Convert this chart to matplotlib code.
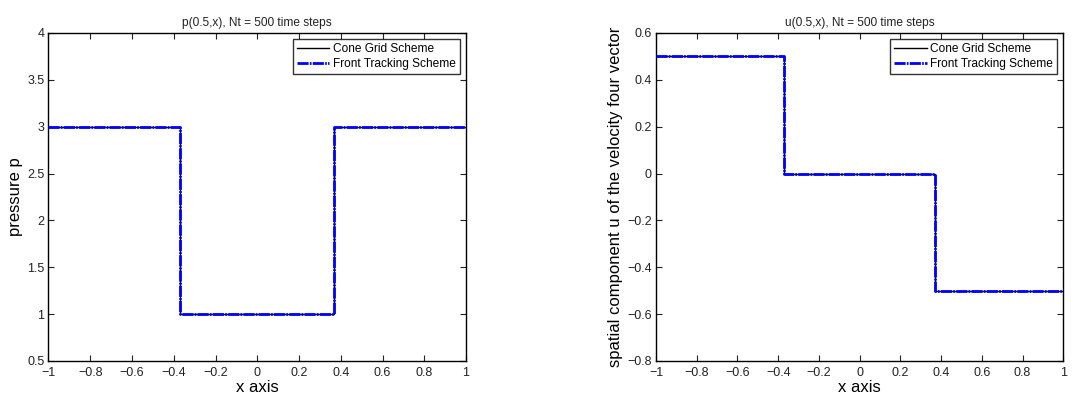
import matplotlib
matplotlib.use("Agg")
import matplotlib.pyplot as plt
from matplotlib.ticker import FixedLocator, FuncFormatter

plt.rcParams['font.family'] = ['Liberation Sans', 'DejaVu Sans']

# breakpoints of the piecewise-constant solutions at t = 0.5
x_pts = [-1.0, -0.37, -0.37, 0.37, 0.37, 1.0]
p_cone = [3.0, 3.0, 1.0, 1.0, 3.0, 3.0]
p_front = [3.0, 3.0, 1.0, 1.0, 3.0, 3.0]
u_cone = [0.5, 0.5, 0.0, 0.0, -0.5, -0.5]
u_front = [0.5, 0.5, 0.0, 0.0, -0.5, -0.5]

x_ticks = [-1, -0.8, -0.6, -0.4, -0.2, 0, 0.2, 0.4, 0.6, 0.8, 1]
p_ticks = [0.5, 1, 1.5, 2, 2.5, 3, 3.5, 4]
u_ticks = [-0.8, -0.6, -0.4, -0.2, 0, 0.2, 0.4, 0.6]

titles = ["p(0.5,x), Nt = 500 time steps", "u(0.5,x), Nt = 500 time steps"]
ylabels = ["pressure p", "spatial component u of the velocity four vector"]
legend_labels = ["Cone Grid Scheme", "Front Tracking Scheme"]


def fmt(v, _pos=None):
    s = ("%g" % round(v, 6))
    return s.replace("-", "\u2212")


fig = plt.figure(figsize=(10.73, 3.97), dpi=100)
ax1 = fig.add_axes([0.0452, 0.0907, 0.3891, 0.8262])
ax2 = fig.add_axes([0.6114, 0.0907, 0.3796, 0.8262])

panels = [
    (ax1, p_cone, p_front, p_ticks, (0.5, 4)),
    (ax2, u_cone, u_front, u_ticks, (-0.8, 0.6)),
]

for i, (ax, yc, yf, yt, ylim) in enumerate(panels):
    ax.plot(x_pts, yc, color='black', lw=1.0, solid_joinstyle='miter',
            label=legend_labels[0], zorder=2)
    ax.plot(x_pts, yf, color='#0000ff', lw=2.0, dashes=(4, 0.45, 0.6, 0.45),
            label=legend_labels[1], zorder=3)
    ax.set_xlim(-1, 1)
    ax.set_ylim(*ylim)
    ax.xaxis.set_major_locator(FixedLocator(x_ticks))
    ax.yaxis.set_major_locator(FixedLocator(yt))
    ax.xaxis.set_major_formatter(FuncFormatter(fmt))
    ax.yaxis.set_major_formatter(FuncFormatter(fmt))
    ax.tick_params(direction='in', top=True, right=True, length=4,
                   width=0.8, labelsize=9, colors='#222222')
    ax.tick_params(axis='x', pad=4)
    ax.tick_params(axis='y', pad=3)
    for sp in ax.spines.values():
        sp.set_linewidth(1.0)
    ax.set_title(titles[i], fontsize=8.6, pad=5, color='#222222')
    ax.set_xlabel("x axis", fontsize=12, labelpad=1)
    ax.set_ylabel(ylabels[i], fontsize=12, labelpad=3)
    leg = ax.legend(loc='upper right', fontsize=8.6, frameon=True, fancybox=False,
                    edgecolor='black', borderpad=0.35, labelspacing=0.25,
                    handlelength=2.7, handletextpad=0.3, borderaxespad=0.5)
    leg.get_frame().set_linewidth(1.0)

fig.savefig("out.png", dpi=100)
